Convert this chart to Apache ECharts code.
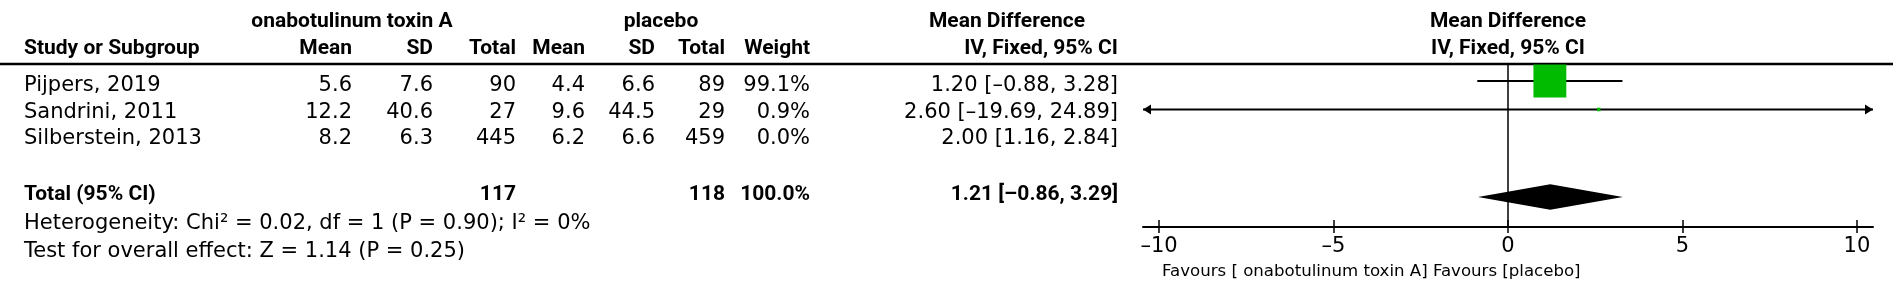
<!DOCTYPE html>
<html>
<head>
<meta charset="utf-8">
<script src="https://cdn.jsdelivr.net/npm/echarts@6/dist/echarts.min.js"></script>
<style>
html, body { margin: 0; padding: 0; background: #fff; }
#chart { width: 1902px; height: 293px; }
</style>
</head>
<body>
<div id="chart"></div>
<script>
// study data
const studies = ['Pijpers, 2019', 'Sandrini, 2011', 'Silberstein, 2013'];
const treatMean = [5.6, 12.2, 8.2];
const treatSD = [7.6, 40.6, 6.3];
const treatN = [90, 27, 445];
const ctrlMean = [4.4, 9.6, 6.2];
const ctrlSD = [6.6, 44.5, 6.6];
const ctrlN = [89, 29, 459];
const weights = [99.1, 0.9, 0.0];
const md = [1.20, 2.60, 2.00];
const ciLow = [-0.88, -19.69, 1.16];
const ciHigh = [3.28, 24.89, 2.84];

// pooled result
const totalN = [117, 118];
const totalWeight = 100.0;
const totalEffect = [1.21, -0.86, 3.29];
const hetStats = [0.02, 1, 0.90, 0];   // Chi2, df, P, I2
const overallStats = [1.14, 0.25];      // Z, P

const xTicks = [-10, -5, 0, 5, 10];
const groupLabels = ['onabotulinum toxin A', 'placebo'];
const favoursLabel = 'Favours [ onabotulinum toxin A] Favours [placebo]';

const FONT = 'DejaVu Sans';
const FONT_BOLD = 'Roboto';
const FS = 21;
const FS_BOLD = 21;
const X_MIN = -10.46, X_MAX = 10.46;
const TOTAL_ROW = 4;

function dash(s) { return String(s).replace('-', '\u2013'); }
function f1(v) { return dash(v.toFixed(1)); }
function f2(v) { return dash(v.toFixed(2)); }

const chart = echarts.init(document.getElementById('chart'));

const ciData = [];
const squareData = [];
studies.forEach(function (s, i) {
    if (weights[i] > 0) {
        ciData.push([md[i], ciLow[i], ciHigh[i], i]);
        squareData.push([md[i], i, weights[i]]);
    }
});

chart.setOption({
    animation: false,
    grid: { left: 1143, right: 29, top: 64, height: 163 },
    xAxis: [{
        type: 'value',
        min: X_MIN,
        max: X_MAX,
        position: 'bottom',
        axisLine: { onZero: false, lineStyle: { color: '#000', width: 2 } },
        axisTick: { show: true, length: 6, customValues: xTicks, lineStyle: { color: '#000', width: 1.5 } },
        axisLabel: {
            customValues: xTicks,
            color: '#000',
            fontFamily: FONT,
            fontSize: 21,
            margin: 9,
            formatter: function (v) { return dash(v); }
        },
        splitLine: { show: false }
    }, {
        type: 'value',
        min: X_MIN,
        max: X_MAX,
        position: 'bottom',
        axisLine: { show: false, onZero: false },
        axisTick: { show: true, inside: true, length: 7, customValues: xTicks, lineStyle: { color: '#000', width: 1.5 } },
        axisLabel: { show: false },
        splitLine: { show: false }
    }],
    yAxis: {
        type: 'value',
        inverse: true,
        min: -0.596,
        max: 5.123,
        show: false
    },
    series: [
        {
            name: 'ci',
            type: 'custom',
            data: ciData,
            z: 2,
            renderItem: function (params, api) {
                const row = api.value(3);
                const lo = api.value(1), hi = api.value(2);
                const p1 = api.coord([Math.max(lo, X_MIN), row]);
                const p2 = api.coord([Math.min(hi, X_MAX), row]);
                const children = [{
                    type: 'line',
                    shape: { x1: p1[0], y1: p1[1], x2: p2[0], y2: p2[1] },
                    style: { stroke: '#000', lineWidth: 2 }
                }];
                if (lo < X_MIN) {
                    children.push({ type: 'polygon', shape: { points: [[p1[0], p1[1]], [p1[0] + 8, p1[1] - 5], [p1[0] + 8, p1[1] + 5]] }, style: { fill: '#000' } });
                }
                if (hi > X_MAX) {
                    children.push({ type: 'polygon', shape: { points: [[p2[0], p2[1]], [p2[0] - 8, p2[1] - 5], [p2[0] - 8, p2[1] + 5]] }, style: { fill: '#000' } });
                }
                return { type: 'group', children: children };
            }
        },
        {
            name: 'weight',
            type: 'scatter',
            data: squareData,
            z: 3,
            symbol: 'rect',
            symbolSize: function (v) { return Math.max(3.5, Math.sqrt(v[2] / 100) * 33); },
            itemStyle: { color: '#00bb00', opacity: 1 },
            markLine: {
                silent: true,
                symbol: 'none',
                label: { show: false },
                lineStyle: { color: '#000', width: 1.5, type: 'solid' },
                data: [{ xAxis: 0 }]
            }
        },
        {
            name: 'total',
            type: 'custom',
            z: 3,
            data: [[totalEffect[0], totalEffect[1], totalEffect[2], TOTAL_ROW]],
            renderItem: function (params, api) {
                const row = api.value(3);
                const c = api.coord([api.value(0), row]);
                const l = api.coord([api.value(1), row]);
                const r = api.coord([api.value(2), row]);
                const h = 12.7;
                return {
                    type: 'polygon',
                    shape: { points: [[l[0], l[1] + 2], [c[0], c[1] + 2 - h], [r[0], r[1] + 2], [c[0], c[1] + 2 + h]] },
                    style: { fill: '#000' }
                };
            }
        }
    ]
});

// table text rows (pixel layout of the left-hand table)
const rowTop = 85.5, rowPitch = 26.7;
function rowY(i) { return rowTop + rowPitch * i; }
const totalY = 195, hetY = 224, testY = 252;

const col = { name: 24, tMean: 352, tSD: 433, tN: 516, cMean: 585, cSD: 655, cN: 725, weight: 810, ci: 1118 };
const plotCenter = chart.convertToPixel({ xAxisIndex: 0 }, 0);

function txt(x, y, s, align, bold, size) {
    return {
        type: 'text',
        x: x,
        y: y,
        style: {
            text: s,
            fill: '#000',
            font: (bold ? 'bold ' : '') + (size || (bold ? FS_BOLD : FS)) + 'px "' + (bold ? FONT_BOLD : FONT) + '"',
            textAlign: align || 'left',
            textVerticalAlign: 'middle'
        }
    };
}

const head1 = 22, head2 = 49;
const g = [];
g.push(txt(352, head1, groupLabels[0], 'center', true));
g.push(txt(661, head1, groupLabels[1], 'center', true));
g.push(txt(1007, head1, 'Mean Difference', 'center', true));
g.push(txt(plotCenter, head1, 'Mean Difference', 'center', true));

g.push(txt(col.name, head2, 'Study or Subgroup', 'left', true));
g.push(txt(col.tMean, head2, 'Mean', 'right', true));
g.push(txt(col.tSD, head2, 'SD', 'right', true));
g.push(txt(col.tN, head2, 'Total', 'right', true));
g.push(txt(col.cMean, head2, 'Mean', 'right', true));
g.push(txt(col.cSD, head2, 'SD', 'right', true));
g.push(txt(col.cN, head2, 'Total', 'right', true));
g.push(txt(col.weight, head2, 'Weight', 'right', true));
g.push(txt(col.ci, head2, 'IV, Fixed, 95% CI', 'right', true));
g.push(txt(plotCenter, head2, 'IV, Fixed, 95% CI', 'center', true));

g.push({
    type: 'line',
    shape: { x1: 0, y1: 64, x2: 1893, y2: 64 },
    style: { stroke: '#000', lineWidth: 2.5 }
});

studies.forEach(function (s, i) {
    const y = rowY(i);
    g.push(txt(col.name, y, s, 'left'));
    g.push(txt(col.tMean, y, f1(treatMean[i]), 'right'));
    g.push(txt(col.tSD, y, f1(treatSD[i]), 'right'));
    g.push(txt(col.tN, y, String(treatN[i]), 'right'));
    g.push(txt(col.cMean, y, f1(ctrlMean[i]), 'right'));
    g.push(txt(col.cSD, y, f1(ctrlSD[i]), 'right'));
    g.push(txt(col.cN, y, String(ctrlN[i]), 'right'));
    g.push(txt(col.weight, y, f1(weights[i]) + '%', 'right'));
    g.push(txt(col.ci, y, f2(md[i]) + ' [' + f2(ciLow[i]) + ', ' + f2(ciHigh[i]) + ']', 'right'));
});

g.push(txt(col.name, totalY, 'Total (95% CI)', 'left', true));
g.push(txt(col.tN, totalY, String(totalN[0]), 'right', true));
g.push(txt(col.cN, totalY, String(totalN[1]), 'right', true));
g.push(txt(col.weight, totalY, f1(totalWeight) + '%', 'right', true));
g.push(txt(col.ci, totalY, f2(totalEffect[0]) + ' [' + f2(totalEffect[1]) + ', ' + f2(totalEffect[2]) + ']', 'right', true));

g.push(txt(col.name, hetY, 'Heterogeneity: Chi\u00b2 = ' + f2(hetStats[0]) + ', df = ' + hetStats[1] +
    ' (P = ' + f2(hetStats[2]) + '); I\u00b2 = ' + hetStats[3] + '%', 'left'));
g.push(txt(col.name, testY, 'Test for overall effect: Z = ' + f2(overallStats[0]) + ' (P = ' + f2(overallStats[1]) + ')', 'left'));

g.push(txt(1162, 272, favoursLabel, 'left', false, 16.6));

chart.setOption({ graphic: { elements: g } });

window.addEventListener('resize', function () {
    chart.resize();
});
</script>
</body>
</html>
